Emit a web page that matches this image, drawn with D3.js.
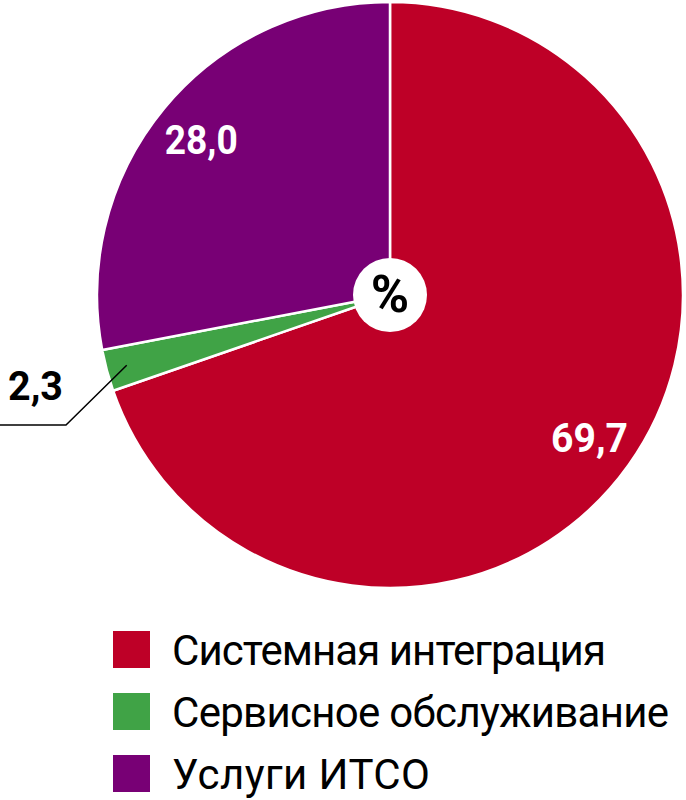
<!DOCTYPE html>
<html><head><meta charset="utf-8">
<script src="https://cdn.jsdelivr.net/npm/d3@7/dist/d3.min.js"></script>
<style>html,body{margin:0;padding:0;background:#fff;}svg{display:block;}</style>
</head><body>
<svg id="chart" width="686" height="800"></svg>
<script>
const categories = ["Системная интеграция", "Сервисное обслуживание", "Услуги ИТСО"];
const values = [69.7, 2.3, 28.0];
const valueLabels = ["69,7", "2,3", "28,0"];
const colors = ["#BE0027", "#40A346", "#780075"];
const centerLabel = "%";

const svg = d3.select("#chart");
const cx = 390, cy = 295, R = 293, rHole = 37;
const g = svg.append("g").attr("transform", `translate(${cx},${cy})`);

const pie = d3.pie().value(d => d).sort(null);
const arcs = pie(values);
const arc = d3.arc().innerRadius(0).outerRadius(R);

g.selectAll("path.slice").data(arcs).enter().append("path")
  .attr("class", "slice")
  .attr("d", arc)
  .attr("fill", (d, i) => colors[i])
  .attr("stroke", "#fff").attr("stroke-width", 2.5).attr("stroke-linejoin", "round");

g.append("circle").attr("r", rHole).attr("fill", "#fff");
g.append("text").text(centerLabel)
  .attr("x", 0).attr("y", 17)
  .attr("text-anchor", "middle")
  .attr("font-family", "Roboto, 'DejaVu Sans', sans-serif")
  .attr("font-weight", 700).attr("font-size", 52).attr("fill", "#000");

const labelFont = "Roboto, 'Liberation Sans', sans-serif";
const labelArc = d3.arc().innerRadius(R * 0.836).outerRadius(R * 0.836);
const insideLens = {0: 77, 2: 73};
[0, 2].forEach(i => {
  const t = (arcs[i].startAngle + arcs[i].endAngle) / 2;
  const c = labelArc.centroid({startAngle: t, endAngle: t});
  g.append("text").text(valueLabels[i]).attr("x", c[0]).attr("y", c[1] + 15)
    .attr("text-anchor", "middle").attr("font-family", labelFont).attr("font-weight", 700)
    .attr("font-size", 41).attr("fill", "#fff")
    .attr("textLength", insideLens[i]).attr("lengthAdjust", "spacingAndGlyphs");
});
// leader line for small slice
(function(){
  const a = arcs[1];
  const t = (a.startAngle + a.endAngle) / 2;
  const p0 = d3.arc().innerRadius(R*0.93).outerRadius(R*0.93).centroid({startAngle: t, endAngle: t});
  const x1 = 66 - cx, y1 = 425 - cy;
  g.append("path")
    .attr("d", `M${p0[0]},${p0[1]} L${x1},${y1} L${-cx},${y1}`)
    .attr("fill", "none").attr("stroke", "#000").attr("stroke-width", 1.5);
  g.append("text").text(valueLabels[1]).attr("x", 8 - cx).attr("y", 400 - cy)
    .attr("font-family", labelFont).attr("font-weight", 700)
    .attr("font-size", 40).attr("fill", "#000").attr("textLength", 55).attr("lengthAdjust", "spacingAndGlyphs");
})();

// legend
const legendLengths = [434, 497, 258];
const lg = svg.append("g");
const ly = d3.scalePoint().domain(categories).range([631, 755]);
categories.forEach((c, i) => {
  const y = ly(c);
  lg.append("rect").attr("x", 113).attr("y", y).attr("width", 37).attr("height", 37).attr("fill", colors[i]);
  lg.append("text").text(c).attr("x", 172).attr("y", y + 34)
    .attr("font-family", "Roboto, 'Noto Sans', sans-serif")
    .attr("font-size", 42).attr("fill", "#000")
    .attr("textLength", legendLengths[i]).attr("lengthAdjust", "spacing");
});
</script>
</body></html>
